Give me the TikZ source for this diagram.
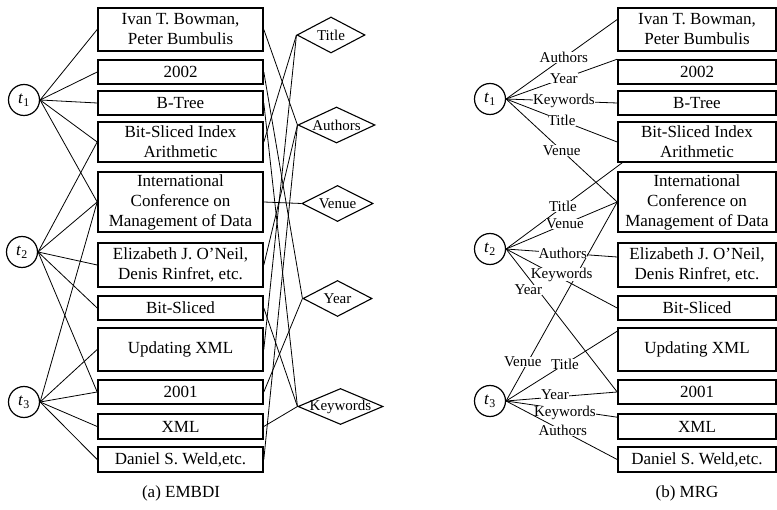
\documentclass[tikz,border=0pt]{standalone}
\usepackage{fontspec}
\setmainfont{Liberation Serif}
\usetikzlibrary{shapes.geometric}

\tikzset{
  ent/.style={draw, line width=1.6pt, align=center, inner sep=0pt,
    minimum height=24pt, font=\fontsize{17}{20}\selectfont},
  entl/.style={ent, minimum width=165pt},
  entr/.style={ent, minimum width=158pt},
  tup/.style={circle, draw, line width=1.2pt, minimum size=31pt, inner sep=0pt,
    font=\fontsize{17}{20}\selectfont},
  attr/.style={diamond, draw, line width=1.1pt, aspect=2, inner sep=-3pt,
    minimum height=36pt, font=\fontsize{15}{15}\selectfont},
  link/.style={line width=0.8pt},
  lbl/.style={fill=white, inner sep=0pt, font=\fontsize{15}{15}\selectfont},
}
\newcommand{\tname}[1]{\textit{t}\textsubscript{#1}}

\begin{document}
\begin{tikzpicture}[x=1pt, y=-1pt]
  \useasboundingbox (0,0) rectangle (777,510);

  % (a) EMBDI
  \node[tup] (lT1) at (24,100) {\tname{1}};
  \node[tup] (lT2) at (22,252) {\tname{2}};
  \node[tup] (lT3) at (24,402) {\tname{3}};

  \node[entl, minimum height=43pt] (lIvan) at (180.5,29.5) {Ivan T. Bowman,\\Peter Bumbulis};
  \node[entl] (l2002) at (180.5,72) {2002};
  \node[entl] (lBTree) at (180.5,103) {B-Tree};
  \node[entl, minimum height=40pt] (lBSI) at (180.5,142) {Bit-Sliced Index\\Arithmetic};
  \node[entl, minimum height=60pt] (lICMD) at (180.5,202) {International\\Conference on\\Management of Data};
  \node[entl, minimum height=44pt] (lOneil) at (180.5,265) {Elizabeth J. O'Neil,\\Denis Rinfret, etc.};
  \node[entl] (lBitS) at (180.5,308) {Bit-Sliced};
  \node[entl, minimum height=43pt] (lUpd) at (180.5,349.5) {Updating XML};
  \node[entl] (l2001) at (180.5,392) {2001};
  \node[entl, minimum height=25pt] (lXML) at (180.5,426.5) {XML};
  \node[entl, minimum height=25pt] (lWeld) at (180.5,459.5) {Daniel S. Weld,etc.};

  \node[attr, minimum width=68pt] (dTitle) at (331,35) {Title};
  \node[attr, minimum width=77pt] (dAuthors) at (336.5,125) {Authors};
  \node[attr, minimum width=71pt] (dVenue) at (337.5,203.5) {Venue};
  \node[attr, minimum width=69pt] (dYear) at (337.5,298.5) {Year};
  \node[attr, minimum width=85pt] (dKeywords) at (340.5,406.5) {Keywords};

  \foreach \b in {lIvan,l2002,lBTree,lBSI,lICMD}
    \draw[link] (lT1.east) -- (\b.west);
  \foreach \b in {lBSI,lICMD,lOneil,lBitS,l2001}
    \draw[link] (lT2.east) -- (\b.west);
  \foreach \b in {lICMD,lUpd,l2001,lXML,lWeld}
    \draw[link] (lT3.east) -- (\b.west);

  \foreach \b/\d in {lIvan/dAuthors, l2002/dYear, lBTree/dKeywords, lBSI/dTitle,
      lICMD/dVenue, lOneil/dAuthors, lBitS/dKeywords, lUpd/dTitle,
      l2001/dYear, lXML/dKeywords, lWeld/dAuthors}
    \draw[link] (\b.east) -- (\d.west);

  \node[font=\fontsize{17}{20}\selectfont] (capA) at (181,493) {(a) EMBDI};

  % (b) MRG
  \node[tup] (rT1) at (490,99) {\tname{1}};
  \node[tup] (rT2) at (490,249) {\tname{2}};
  \node[tup] (rT3) at (490,401) {\tname{3}};

  \node[entr, minimum height=43pt] (rIvan) at (697,29.5) {Ivan T. Bowman,\\Peter Bumbulis};
  \node[entr] (r2002) at (697,72) {2002};
  \node[entr] (rBTree) at (697,103) {B-Tree};
  \node[entr, minimum height=40pt] (rBSI) at (697,142) {Bit-Sliced Index\\Arithmetic};
  \node[entr, minimum height=60pt] (rICMD) at (697,202) {International\\Conference on\\Management of Data};
  \node[entr, minimum height=44pt] (rOneil) at (697,265) {Elizabeth J. O'Neil,\\Denis Rinfret, etc.};
  \node[entr] (rBitS) at (697,308) {Bit-Sliced};
  \node[entr, minimum height=43pt] (rUpd) at (697,349.5) {Updating XML};
  \node[entr] (r2001) at (697,392) {2001};
  \node[entr, minimum height=25pt] (rXML) at (697,426.5) {XML};
  \node[entr, minimum height=25pt] (rWeld) at (697,459.5) {Daniel S. Weld,etc.};

  % t3 first, so the labels of t2 stay on top
  \draw[link] (rT3.east) -- (rICMD.west) node[lbl, pos=0.15, yshift=9pt] {Venue};
  \draw[link] (rT3.east) -- ([yshift=-4pt]rUpd.north west) node[lbl, pos=0.53] {Title};
  \draw[link] (rT3.east) -- (r2001.west) node[lbl, pos=0.44, yshift=2pt] {Year};
  \draw[link] (rT3.east) -- ([yshift=-4pt]rXML.north west) node[lbl, pos=0.53, yshift=-3pt] {Keywords};
  \draw[link] (rT3.east) -- (rWeld.west) node[lbl, pos=0.51] {Authors};

  \draw[link] (rT2.east) -- ([xshift=5pt]rBSI.south west) node[lbl, pos=0.49] {Title};
  \draw[link] (rT2.east) -- (rICMD.west) node[lbl, pos=0.53] {Venue};
  \draw[link] (rT2.east) -- ([yshift=8pt]rOneil.west) node[lbl, pos=0.51] {Authors};
  \draw[link] (rT2.east) -- (rBitS.west) node[lbl, pos=0.5, yshift=4pt] {Keywords};
  \draw[link] (rT2.east) -- (r2001.west) node[lbl, pos=0.2, yshift=-12pt] {Year};

  \draw[link] (rT1.east) -- ([yshift=10pt]rIvan.west) node[lbl, pos=0.52] {Authors};
  \draw[link] (rT1.east) -- (r2002.north west) node[lbl, pos=0.52] {Year};
  \draw[link] (rT1.east) -- (rBTree.west) node[lbl, pos=0.52] {Keywords};
  \draw[link] (rT1.east) -- (rBSI.west) node[lbl, pos=0.5] {Title};
  \draw[link] (rT1.east) -- (rICMD.west) node[lbl, pos=0.5] {Venue};

  \node[font=\fontsize{17}{20}\selectfont] (capB) at (687,493) {(b) MRG};
\end{tikzpicture}
\end{document}
